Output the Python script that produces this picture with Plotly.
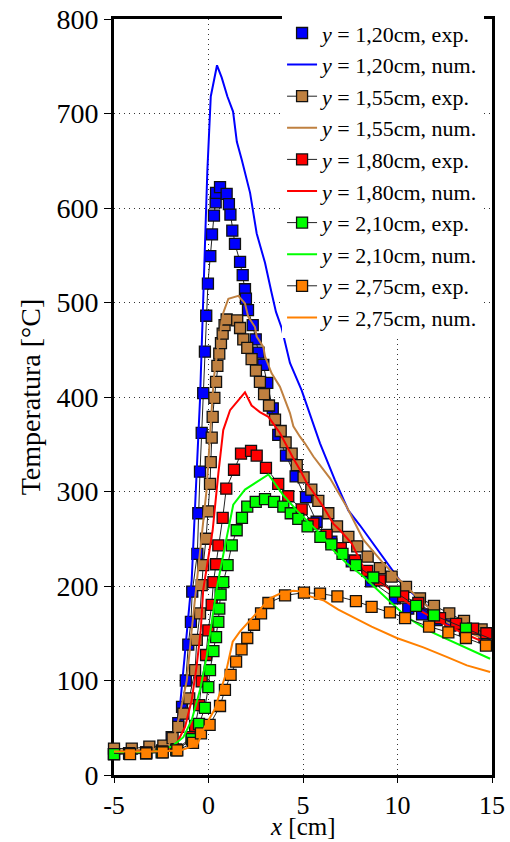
import plotly.graph_objects as go

# ---------------- data ----------------
x_ticks = [-5, 0, 5, 10, 15]
x_tick_labels = ["-5", "0", "5", "10", "15"]
y_ticks = [0, 100, 200, 300, 400, 500, 600, 700, 800]

# y = 1,20 cm experimental
x_b_exp = [-5.0, -4.2, -3.3, -2.45, -1.95, -1.6, -1.4, -1.2, -1.07, -0.93, -0.86, -0.59, -0.54, -0.45,
           -0.36, -0.28, -0.19, -0.12, -0.03, 0.095, 0.185, 0.29, 0.38, 0.40, 0.61, 0.96, 1.08, 1.16,
           1.26, 1.40, 1.67, 1.81, 1.93, 1.98, 2.09, 2.34, 2.50, 2.65, 2.90, 3.11, 3.40, 3.69, 4.10,
           4.61, 5.16, 5.72, 6.50, 7.58, 8.60, 9.87, 10.57, 11.30, 12.07, 12.80, 13.57, 14.60]
t_b_exp = [22, 23, 24, 26, 40, 55, 72, 100, 138, 162, 194, 234, 277, 321,
           362, 404, 448, 486, 520, 549, 572, 592, 606, 616, 622, 615, 604, 593,
           576, 562, 543, 529, 514, 504, 492, 476, 461, 447, 434, 415, 388, 360, 338,
           316, 294, 268, 247, 226, 205, 187, 176, 170, 164, 158, 153, 146]
# y = 1,20 cm numerical
x_b_num = [-5.0, -3.0, -2.2, -1.77, -1.51, -1.33, -1.07, -0.89, -0.45, -0.28, -0.06, 0.12, 0.45, 0.7,
           1.0, 1.3, 1.5, 1.76, 2.2, 2.55, 2.99, 3.34, 3.57, 3.87, 4.31, 4.93, 5.1, 5.9, 6.69, 7.4,
           8.02, 8.72, 9.6, 10.3, 11.37, 12.6, 13.67, 14.9]
t_b_num = [25, 26, 30, 44, 72, 111, 164, 206, 397, 499, 640, 718, 751, 738,
           718, 702, 670, 651, 616, 573, 542, 510, 490, 473, 436, 407, 397, 351, 312, 280,
           264, 245, 220, 201, 182, 164, 153, 143]

# y = 1,55 cm experimental
x_br_exp = [-5.0, -4.06, -3.13, -2.39, -1.9, -1.6, -1.33, -1.02, -0.71, -0.62, -0.45, -0.36, -0.28,
            -0.13, -0.01, 0.08, 0.12, 0.17, 0.22, 0.31, 0.40, 0.47, 0.57, 0.66, 0.75, 0.85, 0.96,
            1.52, 1.67, 1.84, 2.05, 2.28, 2.51, 2.72, 2.94, 3.2, 3.52, 3.82, 4.08, 4.4, 4.67, 5.03,
            5.44, 5.81, 6.34, 6.8, 7.4, 7.87, 8.42, 9.07, 9.69, 10.45, 11.19, 11.93, 12.74, 13.52, 14.45]
t_br_exp = [28, 28, 30, 31, 39, 51, 65, 81, 111, 143, 171, 201, 222,
            250, 279, 308, 331, 357, 379, 399, 416, 433, 446, 457, 467, 476, 482,
            481, 473, 461, 452, 440, 428, 416, 403, 391, 376, 364, 352, 340, 328, 315,
            302, 290, 277, 263, 252, 242, 231, 219, 210, 199, 187, 179, 171, 163, 154]
# y = 1,55 cm numerical
x_br_num = [-5.0, -3.0, -2.2, -1.86, -1.5, -1.15, -0.89, -0.62, -0.1, 0.2, 0.29, 0.43, 0.61, 0.78,
            1.05, 1.58, 1.93, 2.1, 2.46, 2.55, 2.9, 2.99, 3.34, 3.78, 4.31, 4.49, 4.84, 5.1, 5.55,
            6.43, 7.31, 8.19, 9.25, 10.13, 11.37, 12.6, 13.67, 14.9]
t_br_num = [26, 27, 30, 37, 66, 100, 153, 206, 302, 397, 421, 443, 467, 489,
            504, 507, 499, 485, 474, 464, 453, 443, 425, 411, 383, 369, 358, 351, 337,
            314, 284, 249, 224, 206, 182, 162, 152, 141]

# y = 1,80 cm experimental
x_r_exp = [-5.0, -4.2, -3.3, -2.45, -1.7, -0.89, -0.71, -0.49, -0.36, -0.13, -0.01, 0.17, 0.26, 0.40,
           0.52, 0.75, 0.94, 1.35, 1.72, 2.25, 2.55, 3.04, 3.69, 4.22, 4.93, 5.55, 6.25, 7.0, 7.75,
           8.4, 9.07, 10.3, 11.1, 12.25, 13.1, 14.0, 14.7]
t_r_exp = [22, 23, 24, 25, 27, 40, 52, 74, 99, 127, 153, 180, 204, 223,
           243, 272, 303, 323, 340, 343, 338, 325, 308, 295, 281, 266, 254, 240, 227,
           216, 206, 189, 182, 166, 160, 155, 150]
# y = 1,80 cm numerical
x_r_num = [-5.0, -3.0, -2.2, -1.77, -1.24, -0.89, -0.63, -0.41, -0.28, 0.22, 0.52, 0.78, 1.14, 1.93,
           2.28, 2.72, 3.17, 3.78, 4.49, 4.84, 5.2, 5.72, 6.07, 6.6, 6.96, 7.58, 8.19, 9.6, 10.84,
           12.25, 13.48, 14.9]
t_r_num = [24, 25, 27, 30, 51, 79, 115, 153, 196, 259, 319, 365, 386, 405,
           391, 384, 379, 362, 335, 323, 309, 294, 284, 266, 259, 245, 220, 196, 178,
           162, 150, 138]

# y = 2,10 cm experimental
x_g_exp = [-5.0, -4.2, -3.3, -2.48, -1.7, -0.89, -0.5, -0.19, -0.01, 0.08, 0.26, 0.40, 0.52, 0.57,
           0.64, 0.78, 1.01, 1.23, 1.49, 1.77, 2.05, 2.50, 2.99, 3.47, 3.96, 4.35, 4.75, 5.24, 5.92,
           6.5, 7.09, 7.8, 8.72, 9.87, 10.98, 11.93, 13.62, 15.07]
t_g_exp = [22, 23, 23, 24, 26, 38, 54, 71, 93, 111, 131, 146, 162, 176,
           191, 204, 222, 243, 259, 272, 284, 289, 292, 289, 284, 277, 271, 263, 252,
           244, 234, 222, 209, 194, 179, 169, 155, 143]
# y = 2,10 cm numerical
x_g_num = [-5.0, -3.0, -1.95, -1.33, -0.89, -0.45, -0.1, 0.17, 0.43, 0.87, 1.31, 1.93, 2.55, 3.17,
           3.96, 4.67, 5.37, 6.07, 6.6, 7.31, 8.19, 9.25, 10.49, 11.72, 13.13, 14.9]
t_g_num = [24, 24, 30, 40, 58, 90, 125, 160, 197, 242, 286, 302, 310, 318,
           296, 280, 266, 252, 238, 224, 210, 190, 167, 152, 139, 123]

# y = 2,75 cm experimental
x_o_exp = [-5.04, -4.15, -3.3, -2.42, -1.65, -0.82, -0.4, 0.06, 0.61, 0.87, 1.17, 1.46, 1.75, 2.05,
           2.41, 2.78, 3.17, 4.05, 5.05, 5.9, 6.82, 7.8, 8.63, 9.6, 10.4, 11.67, 12.69, 13.62, 14.68]
t_o_exp = [23, 22, 23, 24, 26, 34, 44, 53, 73, 90, 106, 120, 133, 145,
           159, 171, 182, 190, 193, 192, 189, 184, 178, 172, 166, 157, 151, 145, 137]
# y = 2,75 cm numerical
x_o_num = [-5.0, -3.0, -1.5, -0.6, -0.19, 0.34, 0.87, 1.28, 1.67, 2.2, 2.72, 3.25, 3.8, 4.5, 5.0,
           5.37, 6.07, 6.87, 7.75, 8.63, 9.96, 11.37, 12.6, 13.67, 14.9]
t_o_num = [25, 25, 26, 32, 51, 70, 104, 141, 152, 164, 175, 187, 192, 195, 194,
           189, 185, 175, 166, 157, 145, 135, 125, 116, 109]

# ---------------- styling ----------------
FONT = "Liberation Serif"
C_BLUE = "#0000ff"
C_BROWN = "#bf8040"
C_RED = "#ff0000"
C_GREEN = "#00ff00"
C_ORANGE = "#ff8000"

fig = go.Figure()
MS = 11
mline = dict(color="#111111", width=1.3)


def exp_trace(x, t, color, name, group):
    return go.Scatter(x=x, y=t, mode="lines+markers", name=name, legendgroup=group,
                      line=dict(color="#222222", width=1),
                      marker=dict(symbol="square", size=MS, color=color, line=mline),
                      cliponaxis=False)


def num_trace(x, t, color, name, group):
    return go.Scatter(x=x, y=t, mode="lines", name=name, legendgroup=group,
                      line=dict(color=color, width=2), cliponaxis=False)


fig.add_trace(go.Scatter(x=x_b_exp, y=t_b_exp, mode="lines", showlegend=False,
                         line=dict(color="#222222", width=1), cliponaxis=False, hoverinfo="skip"))
fig.add_trace(go.Scatter(x=x_b_exp, y=t_b_exp, mode="markers", name="<i>y</i> = 1,20cm, exp.",
                         legendgroup="g1",
                         marker=dict(symbol="square", size=MS, color=C_BLUE, line=mline),
                         cliponaxis=False))
fig.add_trace(num_trace(x_b_num, t_b_num, C_BLUE, "<i>y</i> = 1,20cm, num.", "g2"))
fig.add_trace(exp_trace(x_br_exp, t_br_exp, C_BROWN, "<i>y</i> = 1,55cm, exp.", "g3"))
fig.add_trace(num_trace(x_br_num, t_br_num, C_BROWN, "<i>y</i> = 1,55cm, num.", "g4"))
fig.add_trace(exp_trace(x_r_exp, t_r_exp, C_RED, "<i>y</i> = 1,80cm, exp.", "g5"))
fig.add_trace(num_trace(x_r_num, t_r_num, C_RED, "<i>y</i> = 1,80cm, num.", "g6"))
fig.add_trace(exp_trace(x_g_exp, t_g_exp, C_GREEN, "<i>y</i> = 2,10cm, exp.", "g7"))
fig.add_trace(num_trace(x_g_num, t_g_num, C_GREEN, "<i>y</i> = 2,10cm, num.", "g8"))
fig.add_trace(exp_trace(x_o_exp, t_o_exp, C_ORANGE, "<i>y</i> = 2,75cm, exp.", "g9"))
fig.add_trace(num_trace(x_o_num, t_o_num, C_ORANGE, "<i>y</i> = 2,75cm, num.", "g10"))

axis_common = dict(
    showline=True, linewidth=3, linecolor="black", mirror=True,
    ticks="outside", ticklen=7, tickwidth=1, tickcolor="black",
    showgrid=True, gridcolor="#333333", griddash="1px,4px", gridwidth=1,
    zeroline=False, layer="below traces", automargin=False,
)

fig.update_xaxes(range=[-5, 15], tickvals=x_ticks, ticktext=x_tick_labels,
                 ticklen=5,
                 tickfont=dict(family=FONT, size=26, color="black"),
                 **{k: v for k, v in axis_common.items() if k != "ticklen"})
fig.update_yaxes(range=[0, 800], tickvals=y_ticks,
                 tickfont=dict(family=FONT, size=28, color="black"),
                 title=dict(text="Temperatura [°C]", font=dict(family=FONT, size=28, color="black"),
                            standoff=8),
                 **axis_common)

# x-axis title placed below the tick labels
fig.add_annotation(text="<i>x</i> [cm]", xref="paper", yref="paper", x=0.5, y=-0.0685,
                   xanchor="center", yanchor="middle", showarrow=False,
                   font=dict(family=FONT, size=25, color="black"))

fig.update_layout(
    width=510, height=842,
    margin=dict(l=114, r=18, t=19, b=67),
    paper_bgcolor="white", plot_bgcolor="white",
    font=dict(family=FONT, color="black"),
    legend=dict(x=0.979, xanchor="right", y=1.009, yanchor="top",
                bgcolor="white", borderwidth=0,
                font=dict(family=FONT, size=22, color="black"),
                tracegroupgap=0, itemwidth=30),
    showlegend=True,
)

fig.write_html("out.html")
